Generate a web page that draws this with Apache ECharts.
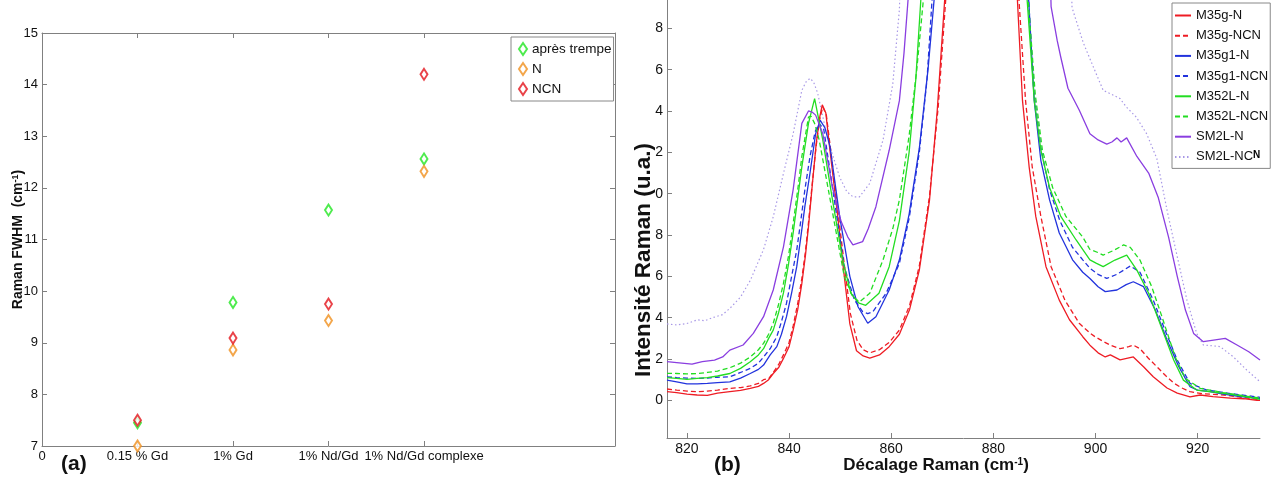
<!DOCTYPE html>
<html><head><meta charset="utf-8">
<script src="https://cdn.jsdelivr.net/npm/echarts@6/dist/echarts.min.js"></script>
<style>html,body{margin:0;padding:0;background:#fff}#c{width:1272px;height:483px}</style>
</head><body><div id="c"></div><script>
// ---------- Panel (a): Raman FWHM ----------
const fwhmCategories = ['0.15 % Gd', '1% Gd', '1% Nd/Gd', '1% Nd/Gd complexe'];
const fwhmXTickLabels = ['0', '0.15 % Gd', '1% Gd', '1% Nd/Gd', '1% Nd/Gd complexe'];
const fwhmApresTrempe = [7.45, 9.78, 11.57, 12.56];
const fwhmN = [7.0, 8.86, 9.43, 12.32];
const fwhmNCN = [7.5, 9.09, 9.75, 14.2];

// ---------- Panel (b): Raman spectra (offset stacked axis) ----------
const specXTicks = [820, 840, 860, 880, 900, 920];
const specYTicks = [0, 2, 4, 6, 8, 10, 12, 14, 16, 18];
const specYTickLabels = ['0', '2', '4', '6', '8', '0', '2', '4', '6', '8'];

const M35g_N = [[816.1,0.42],[818,0.38],[820,0.3],[822,0.26],[824,0.24],[826,0.35],[828.4,0.42],[830.5,0.48],[832.4,0.58],[834,0.68],[835,0.82],[836,1.0],[836.9,1.3],[838,1.6],[838.9,2.03],[840,2.6],[840.8,3.4],[841.7,4.4],[842.5,5.66],[843.2,7.0],[843.8,8.4],[844.5,10.3],[845.3,12.4],[846,13.7],[846.5,14.3],[847.2,13.9],[848,12.1],[849.3,9.4],[850.6,6.45],[851.9,3.7],[853.2,2.4],[854.5,2.15],[855.8,2.05],[857.7,2.2],[859.6,2.6],[861.6,3.2],[863.6,4.4],[865.5,6.3],[867.5,9.7],[869,14],[870.5,19.5],[871.5,24],
  [884,24],[884.7,19.4],[885.7,14.5],[887,11.3],[888.3,8.9],[890.3,6.47],[892.9,4.85],[894.9,3.9],[897.5,3.08],[898.9,2.67],[900.5,2.3],[901.9,2.1],[902.9,2.2],[904.8,1.96],[907.4,2.1],[909.4,1.63],[911.3,1.14],[914,0.6],[916,0.35],[918.5,0.17],[920.5,0.26],[923,0.18],[926.4,0.11],[929,0.08],[931.6,0.0],[932.2,0.0]];
const M35g_NCN = [[816.1,0.55],[818,0.5],[820,0.45],[822,0.42],[824,0.45],[826,0.5],[828.4,0.58],[830.5,0.62],[832.4,0.7],[834,0.82],[835,1.0],[836,1.05],[836.9,1.35],[838,1.75],[838.9,2.2],[840,2.8],[840.8,3.6],[841.7,4.7],[842.5,5.9],[843.2,7.2],[843.8,8.6],[844.5,10.4],[845.3,12.3],[846,13.6],[846.6,14.2],[847.3,13.8],[848.2,12.0],[849.5,9.3],[850.8,6.6],[852,4.2],[853.3,2.9],[854.5,2.45],[855.8,2.3],[857.7,2.45],[859.6,2.8],[861.6,3.4],[863.6,4.6],[865.5,6.5],[867.5,9.9],[869.2,14.2],[870.7,19.5],[871.7,24],
  [884.3,24],[885,19.4],[886.3,14.5],[887.6,11.3],[889.3,8.9],[891.3,6.47],[894,4.85],[896.8,3.73],[898.9,3.26],[899.9,3.08],[901.5,2.85],[902.9,2.67],[904.8,2.5],[906.5,2.6],[907.4,2.67],[908.7,2.5],[910.3,2.05],[912,1.63],[913.7,1.2],[915.3,0.84],[916.9,0.6],[918.5,0.42],[921,0.32],[925.1,0.26],[928.5,0.15],[931.6,0.05],[932.2,0.05]];
const M35g1_N = [[816.1,0.98],[818,0.9],[820,0.8],[822,0.8],[824,0.82],[826,0.86],[828.4,0.9],[830.5,1.08],[832.4,1.3],[834,1.5],[835,1.71],[836.3,2.2],[837.6,2.6],[838.5,3.2],[839.5,4.05],[840.5,5.2],[841.5,6.47],[842.3,7.9],[843.1,9.4],[844.1,11.0],[845.2,12.9],[846.1,13.55],[847,13.2],[848,12.3],[849.9,8.9],[851.9,6.0],[853.5,4.53],[855.4,3.73],[857,4.05],[859.6,5.34],[861.6,6.8],[863.5,9.0],[865.5,12.2],[867.2,16],[868.4,19.4],[869.3,24],
  [885.8,24],[886.9,19.4],[888,14.5],[889.3,11.6],[891,9.7],[892.9,8.1],[895.5,6.8],[897.5,6.2],[898.9,5.9],[900.5,5.5],[901.9,5.26],[904.2,5.34],[906,5.6],[907.4,5.74],[909.4,5.5],[911.7,4.37],[914,2.92],[916.3,1.63],[918.5,0.66],[920,0.5],[922.4,0.42],[925,0.3],[928,0.2],[930,0.15],[932.2,0.08]];
const M35g1_NCN = [[816.1,1.14],[818,1.1],[820,1.08],[822,1.06],[824,1.08],[826,1.12],[828.4,1.14],[830.5,1.35],[832.4,1.55],[834,1.8],[835,2.1],[836.3,2.5],[837.6,3.08],[838.5,3.8],[839.5,4.7],[840.5,6.0],[841.5,7.27],[842.3,8.7],[843.1,10.2],[844.1,11.8],[845.1,13.0],[845.9,13.4],[846.8,13.1],[848.5,10.3],[850.8,6.47],[852.8,4.85],[854.4,4.29],[855.4,4.2],[856.4,4.29],[859,5.18],[861.6,6.63],[863.5,8.8],[865.5,12.0],[867,15.5],[868,19.4],[869,24],
  [885.8,24],[886.9,19.4],[887.9,15],[889.3,12.2],[891,10.2],[893,8.7],[895.5,7.4],[897.5,6.8],[898.9,6.39],[900.5,6.1],[902.2,5.9],[904.2,6.1],[906.8,6.5],[908.7,6.2],[911.3,4.85],[913.6,3.4],[916,1.95],[918.5,0.82],[921.8,0.5],[925,0.38],[928,0.28],[932.2,0.15]];
const M352L_N = [[816.1,1.1],[818,1.06],[820,1.02],[822,1.06],[824,1.1],[826,1.18],[828.4,1.3],[830.5,1.55],[832.4,1.87],[834,2.2],[835,2.5],[836,3.0],[836.9,3.4],[837.9,4.2],[838.9,5.2],[839.9,6.6],[840.8,8.1],[841.7,9.8],[842.5,11.3],[843.8,13.4],[845,14.6],[846.6,12.6],[848.5,9.7],[850.5,6.8],[852.1,5.18],[853.7,4.7],[855,4.6],[857.6,5.18],[859.6,6.47],[861.6,8.7],[863.5,12.0],[864.8,15.5],[865.8,19.4],[866.6,24],
  [885.5,24],[886.6,19.4],[888,14.5],[889.3,12.1],[891,10.3],[893.2,8.9],[896.2,7.76],[898.9,6.8],[900.2,6.63],[901.5,6.47],[903.8,6.79],[906.1,7.03],[908.1,6.3],[910.4,5.18],[912.6,3.73],[915.3,1.95],[917.2,0.98],[919.8,0.5],[925.1,0.34],[929,0.2],[932.2,0.05]];
const M352L_NCN = [[816.1,1.31],[818,1.3],[820,1.28],[822,1.3],[824,1.35],[826,1.42],[828.4,1.58],[830.5,1.8],[832.4,2.1],[834,2.45],[835,2.76],[836,3.2],[836.9,3.73],[837.9,4.6],[838.9,5.66],[839.9,7.0],[840.8,8.56],[841.7,10.2],[842.5,11.8],[843.8,13.7],[844.3,13.75],[845,13.4],[845.9,12.6],[848.5,9.1],[850.8,6.0],[852.5,5.0],[853.8,4.77],[855.8,5.18],[858.4,6.8],[860.3,8.3],[861.6,9.7],[863.5,12.8],[865,16],[866.3,19.4],[867,24],
  [885.6,24],[886.8,19.4],[888.2,14.8],[889.6,12.1],[891.6,10.3],[894.2,8.9],[897.5,7.9],[898.9,7.3],[900.5,7.15],[901.5,7.03],[903.5,7.25],[905.5,7.52],[906.8,7.4],[908.7,6.79],[911,5.5],[913,4.05],[915.6,2.1],[917.6,1.06],[920.5,0.58],[925,0.38],[929,0.22],[932.2,0.11]];
const SM2L_N = [[816.1,1.87],[818,1.83],[819.5,1.79],[821,1.75],[823,1.87],[825.4,1.95],[827,2.1],[828.4,2.43],[831,2.68],[833,3.24],[835,4.05],[836.9,5.34],[838.9,7.43],[840.8,10.2],[842.5,13.4],[843.8,14.0],[844.5,13.95],[845.2,13.8],[846.6,12.9],[848.5,10.3],[850.2,8.65],[851.5,7.9],[852.5,7.52],[854.4,7.68],[855.5,8.3],[857,9.37],[859.6,12.1],[861.6,14.5],[862.5,16.8],[863.3,19.4],[864,24],
  [890.8,24],[891.3,19.05],[892.5,17.4],[893.2,16.6],[894.6,15.1],[896.8,14.05],[898.9,12.9],[900.5,12.6],[902.2,12.4],[903.2,12.5],[904.2,12.7],[905,12.5],[906.1,12.7],[908.1,11.8],[910.4,11.0],[912.3,9.8],[914.3,7.9],[916,6.0],[917.6,4.37],[919.2,3.24],[921.1,2.84],[923.1,2.92],[925.4,3.0],[927.7,2.68],[930,2.35],[932.2,1.95]];
const SM2L_NCN = [[816.1,3.7],[818,3.65],[820,3.72],[822.1,3.9],[823.5,3.85],[825,4.0],[827,4.15],[828.4,4.45],[830.5,5.0],[832.4,5.8],[835,7.3],[836.9,8.88],[838.9,10.98],[840.8,12.9],[842.5,15.0],[843.3,15.4],[844.1,15.58],[844.8,15.4],[845.6,14.86],[847.6,12.6],[849.9,10.8],[851.3,10.1],[852.5,9.85],[853.8,9.85],[855.8,10.5],[858.4,12.6],[860.3,15.3],[861.6,18.9],[862.2,24],
  [894.8,24],[895.4,19.0],[897.6,17.3],[900.3,15.7],[901.5,15.0],[903.2,14.8],[904.8,14.6],[906,14.2],[908,13.7],[910,12.9],[912,11.7],[914,9.2],[916,6.95],[917.9,4.85],[919.8,3.24],[921.1,2.68],[922.5,2.65],[924.4,2.6],[927,2.1],[929.6,1.47],[932.2,0.9]];

const specSeriesNames = ['M35g-N','M35g-NCN','M35g1-N','M35g1-NCN','M352L-N','M352L-NCN','SM2L-N','SM2L-NCN'];
const specSeriesData = [M35g_N, M35g_NCN, M35g1_N, M35g1_NCN, M352L_N, M352L_NCN, SM2L_N, SM2L_NCN];
const specColors = ['#ee1c24','#ee1c24','#2233dd','#2233dd','#22dd22','#22dd22','#8a3ee0','#a898e6'];
const specTypes = ['solid',[5,3],'solid',[5,3],'solid',[5,3],'solid',[1.5,2.5]];

const FONT = "'Liberation Sans', Arial, Helvetica, sans-serif";
const AX = '#808080';

const chart = echarts.init(document.getElementById('c'), null, {renderer: 'canvas'});

const scatterSeries = [
  ['après trempe', fwhmApresTrempe, '#22e622'],
  ['N', fwhmN, '#f0901e'],
  ['NCN', fwhmNCN, '#e3141c']
].map(([name, vals, col]) => ({
  type: 'scatter', name, xAxisIndex: 0, yAxisIndex: 0,
  symbol: 'diamond', symbolSize: [7, 11],
  itemStyle: {color: '#fff', borderColor: col, borderWidth: 2},
  data: vals.map((v, i) => [i + 1, v])
}));

const lineSeries = specSeriesNames.map((name, i) => ({
  type: 'line', name, xAxisIndex: 2, yAxisIndex: 2,
  data: specSeriesData[i], symbol: 'none', showSymbol: false, clip: true,
  lineStyle: {color: specColors[i], width: i === 7 ? 1.2 : 1.3, type: specTypes[i]},
  itemStyle: {color: specColors[i]},
  z: i === 7 ? 1 : 2
}));

const supRich = {sup: {fontSize: 10, fontWeight: 'bold', color: '#111', verticalAlign: 'top', fontFamily: FONT}};

const option = {
  animation: false,
  backgroundColor: '#fff',
  textStyle: {fontFamily: FONT},
  grid: [
    {left: 42, top: 33, width: 573, height: 413, containLabel: false, outerBoundsMode: 'none'},
    {left: 667, top: 0, width: 593, height: 438, containLabel: false, outerBoundsMode: 'none'}
  ],
  xAxis: [
    {gridIndex: 0, type: 'value', min: 0, max: 6, position: 'bottom',
     axisLine: {show: true, onZero: false, lineStyle: {color: AX}},
     axisTick: {show: true, inside: true, length: 5, customValues: [0,1,2,3,4], lineStyle: {color: AX}},
     axisLabel: {show: true, customValues: [0,1,2,3,4], formatter: v => fwhmXTickLabels[Math.round(v)], color: '#111', fontSize: 13, margin: 4},
     splitLine: {show: false}},
    {gridIndex: 0, type: 'value', min: 0, max: 6, position: 'top',
     axisLine: {show: true, onZero: false, lineStyle: {color: AX}},
     axisTick: {show: true, inside: true, length: 5, customValues: [1,2,3,4], lineStyle: {color: AX}},
     axisLabel: {show: false}, splitLine: {show: false}},
    {gridIndex: 1, type: 'value', min: 816.1, max: 932.2, position: 'bottom',
     axisLine: {show: true, onZero: false, lineStyle: {color: AX}},
     axisTick: {show: true, inside: true, length: 5, customValues: specXTicks, lineStyle: {color: AX}},
     axisLabel: {show: true, customValues: specXTicks, color: '#111', fontSize: 14, margin: 4},
     splitLine: {show: false},
     name: 'Décalage Raman (cm{sup|-1})', nameLocation: 'middle', nameGap: 19, nameMoveOverlap: false,
     nameTextStyle: {fontWeight: 'bold', fontSize: 17, color: '#111', padding: [0, 55, 0, 0], rich: supRich}}
  ],
  yAxis: [
    {gridIndex: 0, type: 'value', min: 7, max: 15, interval: 1, position: 'left',
     axisLine: {show: true, onZero: false, lineStyle: {color: AX}},
     axisTick: {show: true, inside: true, length: 5, lineStyle: {color: AX}},
     axisLabel: {show: true, color: '#111', fontSize: 13, margin: 4},
     splitLine: {show: false},
     name: 'Raman FWHM  (cm{sup|-1})', nameLocation: 'middle', nameGap: 17, nameMoveOverlap: false,
     nameTextStyle: {fontWeight: 'bold', fontSize: 14, color: '#111', rich: {sup: {fontSize: 9, fontWeight: 'bold', color: '#111', verticalAlign: 'top'}}}},
    {gridIndex: 0, type: 'value', min: 7, max: 15, interval: 1, position: 'right',
     axisLine: {show: true, onZero: false, lineStyle: {color: AX}},
     axisTick: {show: true, inside: true, length: 5, lineStyle: {color: AX}},
     axisLabel: {show: false}, splitLine: {show: false}},
    {gridIndex: 1, type: 'value', min: -1.82, max: 19.37, position: 'left',
     axisLine: {show: true, onZero: false, lineStyle: {color: AX}},
     axisTick: {show: true, inside: true, length: 5, customValues: specYTicks, lineStyle: {color: AX}},
     axisLabel: {show: true, customValues: specYTicks, formatter: v => specYTickLabels[specYTicks.indexOf(Math.round(v))], color: '#111', fontSize: 14, margin: 4},
     splitLine: {show: false},
     name: 'Intensité Raman (u.a.)', nameLocation: 'middle', nameGap: 12, nameMoveOverlap: false,
     nameTextStyle: {fontWeight: 'bold', fontSize: 22.5, color: '#111', padding: [0, 82, 0, 0]}}
  ],
  legend: [
    {data: ['après trempe', 'N', 'NCN'], orient: 'vertical', left: 511, top: 37,
     padding: [5, 2, 5, 7], itemWidth: 8, itemHeight: 12, itemGap: 6,
     borderColor: '#888', borderWidth: 1, backgroundColor: '#fff', selectedMode: false,
     textStyle: {fontSize: 13.5, color: '#111', fontFamily: FONT}},
    {data: specSeriesNames, orient: 'vertical', left: 1172, top: 3,
     padding: [6, 2, 5, 2], itemWidth: 16, itemHeight: 14, itemGap: 7.2,
     borderColor: '#888', borderWidth: 1, backgroundColor: '#fff', selectedMode: false,
     itemStyle: {color: 'rgba(0,0,0,0)', borderColor: 'rgba(0,0,0,0)', borderWidth: 0, opacity: 0},
     formatter: n => n === 'SM2L-NCN' ? 'SM2L-NC{s|N}' : n,
     textStyle: {fontSize: 13, color: '#111', fontFamily: FONT,
       rich: {s: {fontSize: 10, fontWeight: 'bold', color: '#000', verticalAlign: 'top', fontFamily: FONT}}}}
  ],
  graphic: [
    {type: 'text', left: 61, top: 454, style: {text: '(a)', fontSize: 21, fontWeight: 'bold', fontFamily: FONT, fill: '#111'}},
    {type: 'text', left: 714, top: 455, style: {text: '(b)', fontSize: 21, fontWeight: 'bold', fontFamily: FONT, fill: '#111'}}
  ],
  series: [...scatterSeries, ...lineSeries]
};
chart.setOption(option);
</script></body></html>
